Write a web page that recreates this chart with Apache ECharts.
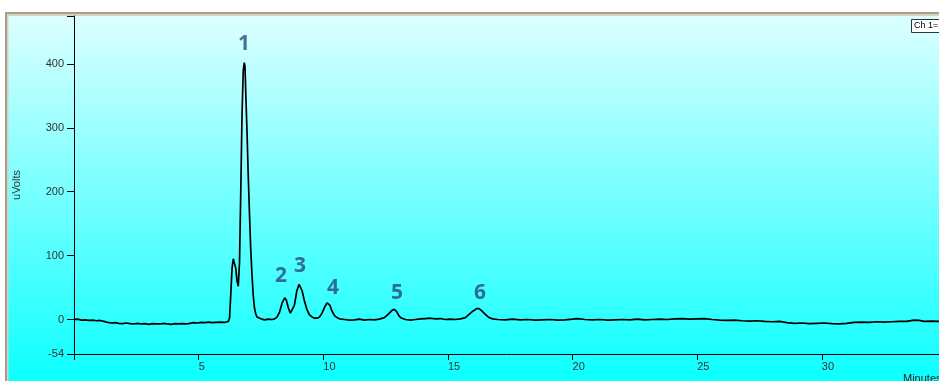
<!DOCTYPE html>
<html>
<head>
<meta charset="utf-8">
<script src="https://cdn.jsdelivr.net/npm/echarts@6/dist/echarts.min.js"></script>
<style>
html,body{margin:0;padding:0;background:#fff;}
#chart{width:939px;height:381px;}
</style>
</head>
<body>
<div id="chart"></div>
<script>
// Retention time (minutes)
const timeMin = [
0,0.15,0.3,0.45,0.6,0.75,0.9,1.05,1.2,1.35,1.5,1.65,1.8,1.95,2.1,2.25,2.4,2.55,2.7,2.85,
3.0,3.15,3.3,3.45,3.6,3.75,3.9,4.05,4.2,4.35,4.5,4.65,4.8,4.95,5.1,5.25,5.4,5.55,5.7,5.85,
6.0,6.1,6.19,6.24,6.29,6.34,6.39,6.44,6.49,6.54,6.59,6.64,6.69,6.74,6.79,6.83,6.86,6.89,6.94,6.99,
7.04,7.09,7.14,7.19,7.24,7.29,7.34,7.39,7.5,7.65,7.8,7.95,8.05,8.15,8.25,8.35,8.45,8.52,8.6,8.68,
8.76,8.84,8.94,9.03,9.08,9.15,9.25,9.35,9.45,9.55,9.65,9.75,9.85,9.95,10.05,10.15,10.2,10.27,10.35,10.45,
10.55,10.65,10.85,11.05,11.25,11.45,11.65,11.85,12.05,12.25,12.45,12.6,12.75,12.85,12.95,13.05,13.15,13.3,13.5,13.7,
13.9,14.1,14.3,14.5,14.7,14.9,15.1,15.3,15.5,15.7,15.85,16.0,16.15,16.25,16.35,16.5,16.65,16.8,17.0,17.3,
17.6,17.9,18.2,18.5,18.8,19.1,19.4,19.7,20.0,20.2,20.5,20.8,21.1,21.4,21.7,22.0,22.3,22.6,22.9,23.2,
23.5,23.8,24.1,24.4,24.7,25.0,25.3,25.6,25.9,26.2,26.5,26.8,27.1,27.4,27.7,28.0,28.3,28.6,28.9,29.2,
29.5,29.8,30.1,30.4,30.7,31.0,31.3,31.6,31.9,32.2,32.5,32.8,33.1,33.4,33.7,33.9,34.1,34.4,34.7
];
// Detector signal (uVolts)
const signalUV = [
0,0.5,-1,-0.5,-1.5,-1,-2,-1.5,-3,-4.5,-5.5,-5,-6,-6.5,-5.5,-6.5,-7,-6,-7,-6.5,
-7.5,-6.5,-7,-7,-6,-7,-7.5,-6.5,-7,-6.5,-7,-6,-5,-5.5,-4.5,-5,-4,-5,-4.5,-4,
-4.5,-4,-3,2,40,80,95,96,80,60,52,90,200,320,390,402,396,355,295,225,
165,110,70,38,18,9,4,2,1,-0.5,0.5,0,1,4,12,26,34,30,18,10,
9,22,45,55,54,45,28,15,7,4,2,2,4,10,19,26,27,22,13,6,
3,1,0,-1,-0.5,0.5,-1,0,-0.5,0.5,3,8,14,16,12,5,2,0,-1,0,
1,1.5,2,1,1.5,0,0.5,0,1,3,8,13,17,17,14,8,3,1,0,-0.5,
0.5,-0.5,0,-1,-0.5,0,-1,-0.5,0.5,1.5,0,-0.5,0,-1,-0.5,0,-0.5,0.5,-0.5,0,
0.5,0,1,1.5,0.5,1,1.5,0,-1,-1.5,-1,-2,-2.5,-2,-3,-3.5,-3,-5,-6,-5.5,
-6.5,-6,-5.5,-6.5,-7,-6,-4.5,-4,-4.5,-3.5,-4,-3.5,-3,-3,-1,-1.5,-3,-2.5,-3
];
// Peak annotations
const peakNames = ['1','2','3','4','5','6'];
const peakLabelTime = [6.82, 8.30, 9.07, 10.39, 12.96, 16.29];
const peakLabelUV = [431, 68, 84, 49, 41.5, 41.5];

const xTickValues = [0,5,10,15,20,25,30];
const xLabelValues = [5,10,15,20,25,30];
const yTickValues = [-54,0,100,200,300,400,475];
const yLabelValues = [-54,0,100,200,300,400];

const trace = timeMin.map((t,i)=>[t, signalUV[i]]);
const peakPts = peakNames.map((n,i)=>({value:[peakLabelTime[i], peakLabelUV[i]], name:n}));

const chart = echarts.init(document.getElementById('chart'), null, {renderer:'canvas'});
chart.setOption({
  backgroundColor:'#ffffff',
  animation:false,
  graphic:[
    {type:'rect', z:-100, silent:true, shape:{x:8,y:16,width:931,height:365},
     style:{fill:new echarts.graphic.LinearGradient(0,0,0,1,[{offset:0,color:'#dcffff'},{offset:1,color:'#0cffff'}])}},
    {type:'rect', z:-90, silent:true, shape:{x:5,y:12,width:934,height:2}, style:{fill:'#a49e90'}},
    {type:'rect', z:-90, silent:true, shape:{x:5,y:12,width:2,height:369}, style:{fill:'#a49e90'}},
    {type:'rect', z:-90, silent:true, shape:{x:7,y:14,width:932,height:2}, style:{fill:'#d9d2bd'}},
    {type:'rect', z:-90, silent:true, shape:{x:7,y:14,width:1.5,height:367}, style:{fill:'#d9d2bd'}},
    {type:'rect', z:50, silent:true, shape:{x:911.5,y:19.5,width:40,height:13},
     style:{fill:'#ffffff', stroke:'#333333', lineWidth:1}},
    {type:'text', z:51, silent:true, x:914, y:26,
     style:{text:'Ch 1=1', fill:'#000', font:'9px "Liberation Sans", Arial', verticalAlign:'middle'}},
    {type:'text', z:51, silent:true, x:903, y:373,
     style:{text:'Minutes', fill:'#222', font:'11px "Liberation Sans", Arial', verticalAlign:'top'}}
  ],
  grid:{left:74, right:0, top:16, bottom:27, containLabel:false},
  xAxis:{
    type:'value', min:0, max:34.7,
    axisLine:{show:true, onZero:false, lineStyle:{color:'#000', width:1}},
    axisTick:{show:true, length:6, lineStyle:{color:'#000'}, customValues:xTickValues},
    axisLabel:{customValues:xLabelValues, color:'#333', fontSize:11, fontFamily:'"Liberation Sans", Arial', align:'left', margin:7},
    splitLine:{show:false}
  },
  yAxis:{
    type:'value', min:-54, max:475,
    name:'uVolts', nameLocation:'middle', nameRotate:90, nameGap:52,
    nameTextStyle:{color:'#333', fontSize:11, fontFamily:'"Liberation Sans", Arial'},
    axisLine:{show:true, onZero:false, lineStyle:{color:'#000', width:1}},
    axisTick:{show:true, length:7, lineStyle:{color:'#000'}, customValues:yTickValues},
    axisLabel:{customValues:yLabelValues, color:'#333', fontSize:11, fontFamily:'"Liberation Sans", Arial', margin:10},
    splitLine:{show:false}
  },
  series:[
    {type:'line', data:trace, showSymbol:false, symbol:'none', lineStyle:{color:'#000', width:1.7}, z:3},
    {type:'scatter', data:peakPts, symbolSize:0, z:4,
     label:{show:true, position:'inside', formatter:'{b}', color:'#284a7a', fontSize:21, fontWeight:'bold', fontFamily:'"Open Sans", "Noto Sans", sans-serif'}}
  ]
});
</script>
</body>
</html>
